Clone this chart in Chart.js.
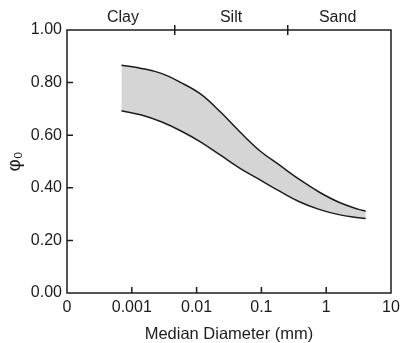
<!DOCTYPE html>
<html><head><meta charset="utf-8">
<script src="https://cdn.jsdelivr.net/npm/chart.js@4/dist/chart.umd.min.js"></script>
<style>html,body{margin:0;padding:0;background:#fff;}#wrap{width:405px;height:343px;position:relative;}canvas{display:block;}</style>
</head><body><div id="wrap"><canvas id="c" width="405" height="343" style="width:405px;height:343px"></canvas></div>
<script>
// Median diameter (mm) sample points along the band
const diameters = [0.000692, 0.00141, 0.00285, 0.00575, 0.0116, 0.0234, 0.0468, 0.0955, 0.191, 0.385, 0.776, 1.57, 3.18, 4.07];
const upperPhi  = [0.866, 0.854, 0.835, 0.800, 0.756, 0.688, 0.612, 0.540, 0.486, 0.432, 0.384, 0.345, 0.318, 0.311];
const lowerPhi  = [0.693, 0.677, 0.651, 0.616, 0.574, 0.524, 0.474, 0.430, 0.387, 0.347, 0.318, 0.298, 0.286, 0.283];

const xTickValues = [0.0001, 0.001, 0.01, 0.1, 1, 10];
const xTickLabels = ['0', '0.001', '0.01', '0.1', '1', '10'];
const yTickValues = [0, 0.2, 0.4, 0.6, 0.8, 1.0];
const yTickLabels = ['0.00', '0.20', '0.40', '0.60', '0.80', '1.00'];
const classCenters = [0.00073, 0.034, 1.5];
const classLabels = ['Clay', 'Silt', 'Sand'];
const classBoundaries = [0.0046, 0.255];

const FONT = "'Liberation Sans', Arial, Helvetica, sans-serif";
const INK = '#1c1c1c';
const W = 405, H = 343;
const AREA = {left: 67, right: 391, top: 30, bottom: 293};

const upperPts = diameters.map((d, i) => ({x: d, y: upperPhi[i]}));
const lowerPts = diameters.map((d, i) => ({x: d, y: lowerPhi[i]}));

const framePlugin = {
  id: 'frame',
  afterDatasetsDraw(chart) {
    const {ctx, chartArea: a, scales} = chart;
    ctx.save();
    ctx.strokeStyle = INK;
    ctx.lineWidth = 1.5;
    ctx.strokeRect(a.left, a.top, a.right - a.left, a.bottom - a.top);
    ctx.beginPath();
    const xs = scales.x, ys = scales.y, x2 = scales.x2;
    xs.ticks.forEach(t => {
      if (t.value > xTickValues[0] && t.value < xTickValues[xTickValues.length - 1]) {
        const px = xs.getPixelForValue(t.value);
        ctx.moveTo(px, a.bottom); ctx.lineTo(px, a.bottom - 6);
      }
    });
    ys.ticks.forEach(t => {
      if (t.value > 0 && t.value < 1) {
        const py = ys.getPixelForValue(t.value);
        ctx.moveTo(a.left, py); ctx.lineTo(a.left + 6, py);
      }
    });
    classBoundaries.forEach(v => {
      const px = x2.getPixelForValue(v);
      ctx.moveTo(px, a.top - 5); ctx.lineTo(px, a.top + 5);
    });
    ctx.stroke();
    ctx.restore();
  }
};

new Chart(document.getElementById('c'), {
  type: 'line',
  data: {
    datasets: [
      {data: upperPts, borderColor: INK, borderWidth: 1.5, pointRadius: 0,
       tension: 0.4, fill: false},
      {data: lowerPts, borderColor: INK, borderWidth: 1.5, pointRadius: 0,
       tension: 0.4, fill: '-1', backgroundColor: '#d5d5d5'}
    ]
  },
  options: {
    responsive: false,
    animation: false,
    devicePixelRatio: 1,
    layout: {padding: {left: 0, right: W - AREA.right, top: 0, bottom: 0}},
    plugins: {legend: {display: false}, tooltip: {enabled: false}},
    scales: {
      x: {
        type: 'logarithmic', position: 'bottom', min: 0.0001, max: 10,
        afterBuildTicks: s => { s.ticks = xTickValues.map(v => ({value: v})); },
        afterFit: s => { s.height = H - AREA.bottom; },
        grid: {display: false, drawTicks: false},
        border: {display: false},
        ticks: {autoSkip: false, maxRotation: 0, padding: 5, color: INK,
                font: {family: FONT, size: 16},
                callback: (v, i) => xTickLabels[i]},
        title: {display: true, text: 'Median Diameter (mm)', color: INK,
                font: {family: FONT, size: 16.5, lineHeight: 1}, padding: {top: 0, bottom: 0}}
      },
      x2: {
        type: 'logarithmic', position: 'top', min: 0.0001, max: 10,
        afterBuildTicks: s => { s.ticks = classCenters.map(v => ({value: v})); },
        afterFit: s => { s.height = AREA.top; },
        grid: {display: false, drawTicks: false},
        border: {display: false},
        ticks: {autoSkip: false, maxRotation: 0, padding: 3, color: INK,
                font: {family: FONT, size: 16},
                callback: (v, i) => classLabels[i]}
      },
      y: {
        type: 'linear', position: 'left', min: 0, max: 1,
        afterBuildTicks: s => { s.ticks = yTickValues.map(v => ({value: v})); },
        afterFit: s => { s.width = AREA.left; },
        grid: {display: false, drawTicks: false},
        border: {display: false},
        ticks: {autoSkip: false, padding: 5, color: INK,
                font: {family: FONT, size: 16},
                callback: (v, i) => yTickLabels[i]},
        title: {display: true, text: 'φ₀', color: INK,
                font: {family: FONT, size: 19, lineHeight: 1.1}, padding: {top: 4, bottom: 0}}
      }
    }
  },
  plugins: [framePlugin]
});
</script>
</body></html>
